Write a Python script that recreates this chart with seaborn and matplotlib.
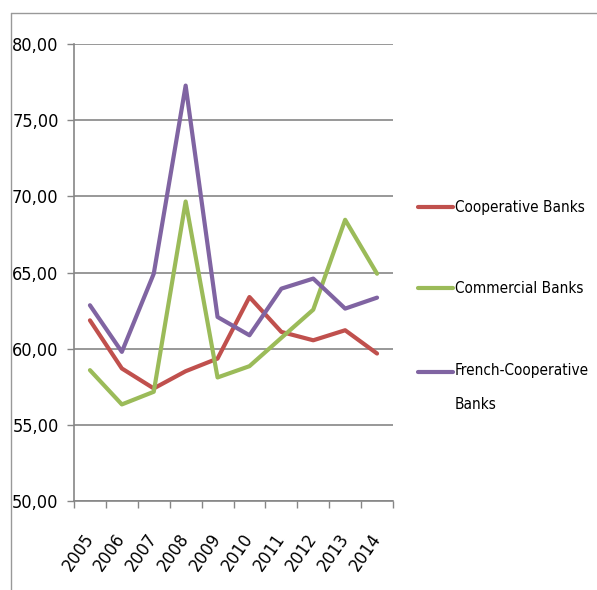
import matplotlib
matplotlib.use("Agg")
import matplotlib.pyplot as plt
from matplotlib.lines import Line2D
from matplotlib.legend_handler import HandlerLine2D
from matplotlib.ticker import FixedLocator, FuncFormatter
import numpy as np
import seaborn as sns
import pandas as pd

years = ["2005", "2006", "2007", "2008", "2009", "2010", "2011", "2012", "2013", "2014"]
cooperative = [61.86, 58.70, 57.39, 58.52, 59.35, 63.39, 61.10, 60.55, 61.21, 59.68]
commercial = [58.59, 56.34, 57.17, 69.66, 58.11, 58.85, 60.71, 62.56, 68.46, 64.92]
french_coop = [62.85, 59.79, 64.92, 77.27, 62.08, 60.88, 63.94, 64.60, 62.63, 63.35]
series_names = ["Cooperative Banks", "Commercial Banks", "French-Cooperative\nBanks"]
colors = ["#C0504D", "#9BBB59", "#8064A2"]
y_ticks = [50, 55, 60, 65, 70, 75, 80]

sns.set_style("white")
plt.rcParams["font.family"] = ["DejaVu Sans"]
plt.rcParams["font.stretch"] = "condensed"
plt.rcParams["text.color"] = "black"
plt.rcParams["xtick.labelcolor"] = "black"
plt.rcParams["ytick.labelcolor"] = "black"

rows = []
for name, vals in zip(series_names, [cooperative, commercial, french_coop]):
    for i, v in enumerate(vals):
        rows.append({"x": i, "value": v, "series": name})
df = pd.DataFrame(rows)

fig = plt.figure(figsize=(5.97, 5.90), dpi=100)
ax = fig.add_axes([74 / 597, 89 / 590, (393 - 74) / 597, (501 - 44) / 590])

sns.lineplot(data=df, x="x", y="value", hue="series", palette=colors,
             hue_order=series_names, linewidth=3, ax=ax, legend=True)

ax.set_xlim(-0.5, 9.5)
ax.set_ylim(50, 80)
ax.set_yticks(y_ticks)
ax.yaxis.set_major_formatter(FuncFormatter(lambda v, p: f"{v:.2f}".replace(".", ",")))
ax.set_xticks(range(len(years)))
ax.set_xticklabels(years, rotation=55, ha="right", va="center", rotation_mode="anchor", fontsize=13)
ax.xaxis.set_minor_locator(FixedLocator([i - 0.5 for i in range(len(years) + 1)]))
ax.tick_params(axis="x", which="major", length=0, pad=25)
ax.tick_params(axis="x", which="minor", length=5, color="#868686", width=1, direction="out", bottom=True)
ax.tick_params(axis="y", length=5, color="#868686", width=1, direction="out", labelsize=13, pad=6, left=True)
ax.grid(axis="y", color="#868686", linewidth=1.2)
ax.set_axisbelow(True)
for s in ["top", "right"]:
    ax.spines[s].set_visible(False)
for s in ["left", "bottom"]:
    ax.spines[s].set_color("#868686")
    ax.spines[s].set_linewidth(1.2)
ax.set_xlabel("")
ax.set_ylabel("")


class ShiftedHandler(HandlerLine2D):
    """Place the legend line beside the first line of a two-line label."""
    def __init__(self, shift_pt, **kw):
        super().__init__(**kw)
        self.shift_pt = shift_pt

    def create_artists(self, legend, orig_handle, xdescent, ydescent, width, height,
                       fontsize, trans):
        artists = super().create_artists(legend, orig_handle, xdescent, ydescent,
                                         width, height, fontsize, trans)
        for a in artists:
            a.set_ydata(np.asarray(a.get_ydata(), dtype=float) + self.shift_pt)
        return artists


handles, labels = ax.get_legend_handles_labels()
leg = ax.legend(handles, labels, loc="upper left", bbox_to_anchor=(418 / 597, 1 - 200 / 590),
                bbox_transform=fig.transFigure, borderpad=0, borderaxespad=0,
                frameon=False, fontsize=11, handlelength=2.3, handletextpad=0.1,
                labelspacing=4.35, handler_map={handles[2]: ShiftedHandler(12.0)})
leg.get_texts()[2].set_linespacing(2.6)

# outer chart border (top and left visible)
fig.add_artist(Line2D([11 / 597, 1.0], [1 - 13 / 590, 1 - 13 / 590], transform=fig.transFigure,
                      color="#999999", linewidth=1))
fig.add_artist(Line2D([11 / 597, 11 / 597], [0, 1 - 13 / 590], transform=fig.transFigure,
                      color="#999999", linewidth=1))

fig.savefig("out.png", dpi=100)
